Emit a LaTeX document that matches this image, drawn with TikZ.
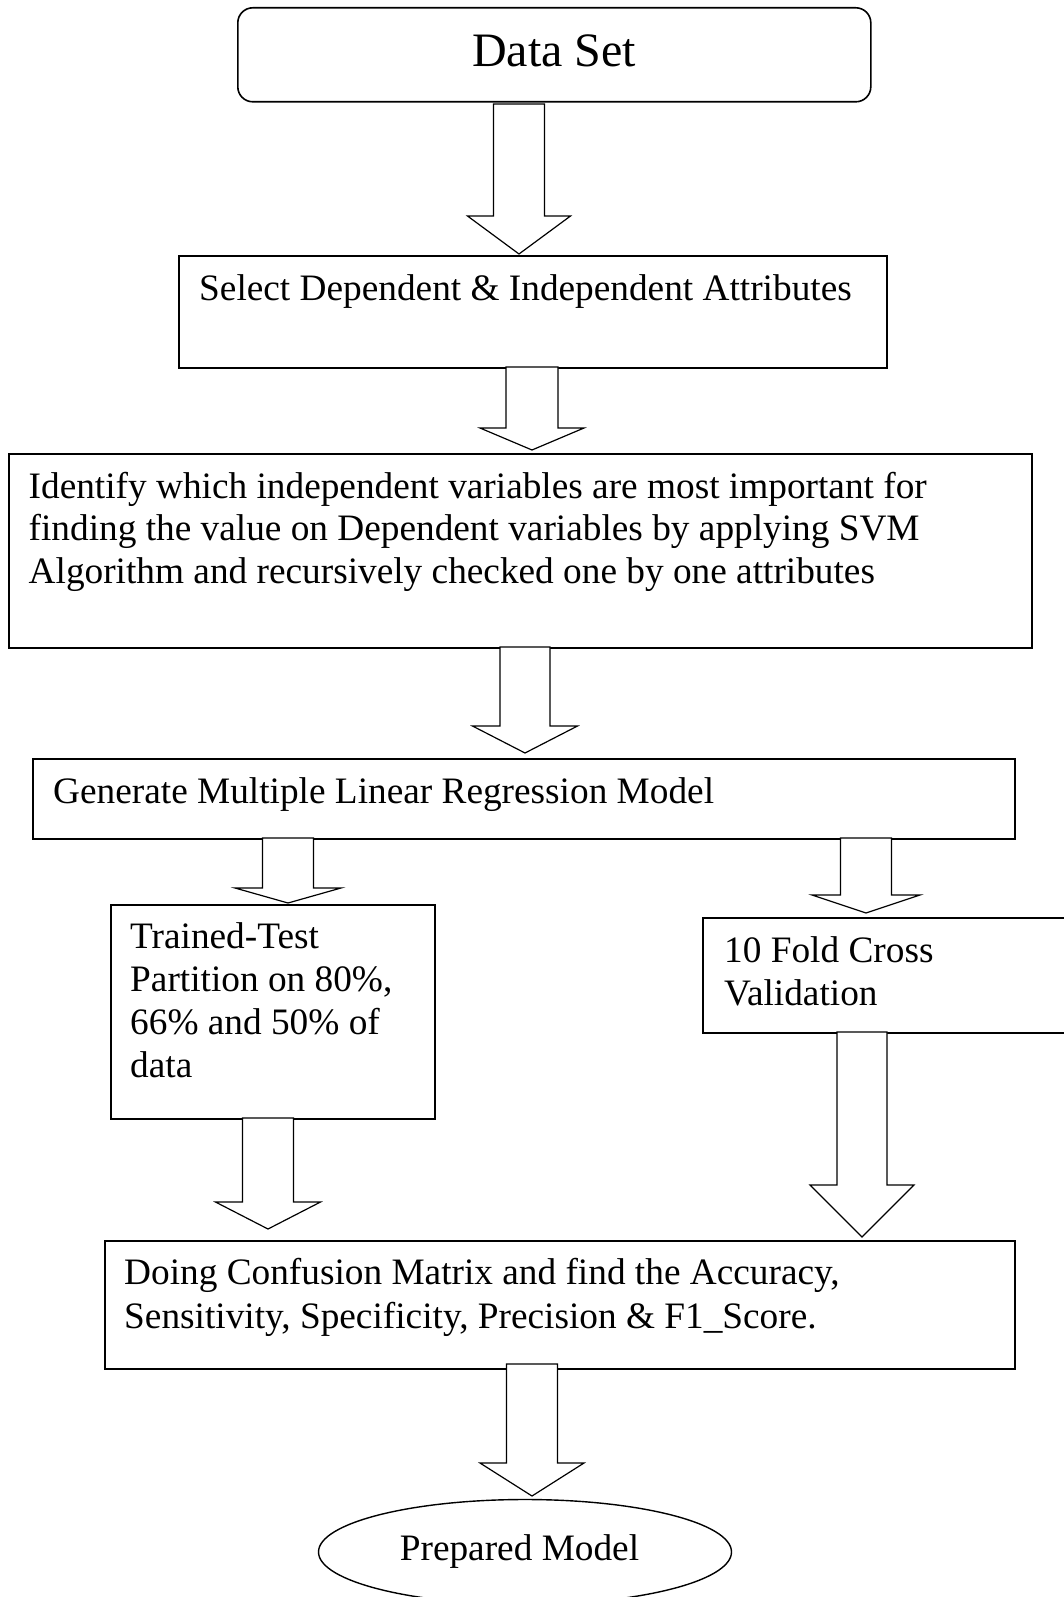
\documentclass[tikz,border=0pt]{standalone}
\usepackage{fontspec}
\setmainfont{Liberation Serif}
\usetikzlibrary{calc,shapes.geometric}
\begin{document}
\begin{tikzpicture}[x=1pt,y=-1pt,
  box/.style={draw=black,line width=1.6pt,fill=white,inner sep=0pt,anchor=north west},
  txt/.style={anchor=base west,inner sep=0pt,font=\fontsize{37.3}{43}\selectfont},
  barrow/.style={draw=black,line width=1.2pt,fill=white,line join=miter}]
\newcommand\blockarrow[5]{%
  \draw[barrow] ($(#1)+(-#4,0)$) -- ($(#2)+(-#4,-#3)$) -- ($(#2)+(-#5,-#3)$) -- (#2)
    -- ($(#2)+(#5,-#3)$) -- ($(#2)+(#4,-#3)$) -- ($(#1)+(#4,0)$) -- cycle;}
\useasboundingbox[fill=white] (0,0) rectangle (1063,1597);

% boxes
\node[box,rounded corners=15pt,minimum width=633pt,minimum height=94pt] (ds) at (237,7) {};
\node[box,minimum width=708pt,minimum height=112pt] (sel) at (178,255) {};
\node[box,minimum width=1023pt,minimum height=194pt] (idf) at (8,453) {};
\node[box,minimum width=982pt,minimum height=80pt] (gen) at (32,758) {};
\node[box,minimum width=324pt,minimum height=214pt] (tt) at (110,904) {};
\node[box,minimum width=380pt,minimum height=115pt] (cv) at (702,917) {};
\node[box,minimum width=910pt,minimum height=128pt] (cm) at (104,1240) {};
\node[draw=black,line width=1.4pt,fill=white,ellipse,inner sep=0pt,minimum width=413pt,minimum height=105pt] (pm) at (525,1552) {};

% texts
\node[anchor=base,inner sep=0pt,font=\fontsize{48}{55}\selectfont] (tds) at (554,67) {Data Set};
\node[txt] (tsel) at (199,300) {Select Dependent \& Independent Attributes};
\node[txt] (tidfa) at (28.5,498) {Identify which independent variables are most important for};
\node[txt] (tidfb) at (28.5,540.5) {finding the value on Dependent variables by applying SVM};
\node[txt] (tidfc) at (28.5,583) {Algorithm and recursively checked one by one attributes};
\node[txt] (tgen) at (53,803) {Generate Multiple Linear Regression Model};
\node[txt] (tta) at (130,948) {Trained-Test};
\node[txt] (ttb) at (130,991) {Partition on 80\%,};
\node[txt] (ttc) at (130,1034) {66\% and 50\% of};
\node[txt] (ttd) at (130,1077) {data};
\node[txt] (tcva) at (724,962) {10 Fold Cross};
\node[txt] (tcvb) at (724,1005) {Validation};
\node[txt] (tcma) at (124,1284) {Doing Confusion Matrix and find the Accuracy,};
\node[txt] (tcmb) at (124,1328) {Sensitivity, Specificity, Precision \& F1\_Score.};
\node[anchor=base,inner sep=0pt,font=\fontsize{37.3}{43}\selectfont] (tpm) at (519.5,1560) {Prepared Model};

% arrow end points
\coordinate (a1s) at (519,104);  \coordinate (a1t) at (519,254);
\coordinate (a2s) at (532,367);  \coordinate (a2t) at (532,450);
\coordinate (a3s) at (525,647);  \coordinate (a3t) at (525,753);
\coordinate (a4s) at (288,838);  \coordinate (a4t) at (288,903);
\coordinate (a5s) at (866,838);  \coordinate (a5t) at (866,913);
\coordinate (a6s) at (268,1118); \coordinate (a6t) at (268,1229);
\coordinate (a7s) at (862,1032); \coordinate (a7t) at (862,1237);
\coordinate (a8s) at (532,1364); \coordinate (a8t) at (532,1496);

\blockarrow{a1s}{a1t}{38}{25.5}{51.5}
\blockarrow{a2s}{a2t}{22}{26}{52}
\blockarrow{a3s}{a3t}{27}{25}{52.5}
\blockarrow{a4s}{a4t}{15}{25.5}{53}
\blockarrow{a5s}{a5t}{18}{25.5}{54}
\blockarrow{a6s}{a6t}{27}{25.5}{52.5}
\blockarrow{a7s}{a7t}{52}{25}{52}
\blockarrow{a8s}{a8t}{33}{25.5}{52}
\end{tikzpicture}
\end{document}
